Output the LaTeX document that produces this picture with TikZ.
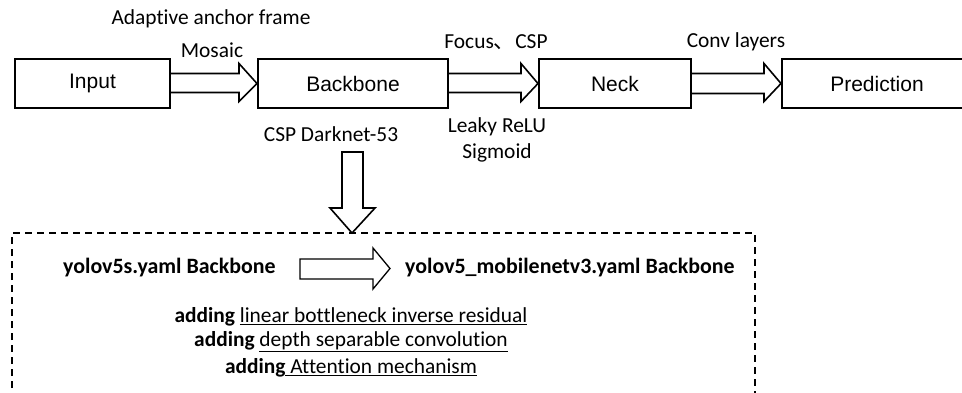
\documentclass[tikz,border=0pt]{standalone}
\usepackage{fontspec}
\setmainfont[Ligatures=NoCommon]{Carlito}
\newfontfamily\arialf{Liberation Sans}
\newfontfamily\cjk{Noto Sans CJK SC}
\usetikzlibrary{calc}
\begin{document}
\begin{tikzpicture}[x=1pt,y=-1pt,
  blk/.style={draw,line width=2pt,minimum height=49pt,inner sep=0pt,font=\arialf\fontsize{21}{25}\selectfont},
  lbl/.style={inner sep=0pt,font=\fontsize{21.4}{25}\selectfont},
  bl/.style={inner sep=0pt,font=\bfseries\fontsize{21.9}{25}\selectfont},
  hollow/.style={draw,line width=1.6pt,fill=white,line join=miter}]
\clip (0,0) rectangle (962,392);
\fill[white] (0,0) rectangle (962,392);
% boxes
\node[blk,minimum width=155pt] (in) at (92.5,83.5) {Input};
\node[blk,minimum width=190pt] (bb) at (353,83.5) {Backbone};
\node[blk,minimum width=152pt] (nk) at (615,83.5) {Neck};
\node[blk,minimum width=190pt] (pr) at (877,83.5) {Prediction};
% horizontal hollow arrows
\draw[hollow] ($(in.east)+(0,-10)$) -- ($(in.east)+(68,-10)$) -- ($(in.east)+(68,-20)$)
  -- (bb.west) -- ($(in.east)+(68,18)$) -- ($(in.east)+(68,9)$) -- ($(in.east)+(0,9)$);
\draw[hollow] ($(bb.east)+(0,-10)$) -- ($(bb.east)+(72,-10)$) -- ($(bb.east)+(72,-20)$)
  -- (nk.west) -- ($(bb.east)+(72,18)$) -- ($(bb.east)+(72,9)$) -- ($(bb.east)+(0,9)$);
\draw[hollow] ($(nk.east)+(0,-10)$) -- ($(nk.east)+(72,-10)$) -- ($(nk.east)+(72,-20)$)
  -- (pr.west) -- ($(nk.east)+(72,18)$) -- ($(nk.east)+(72,10)$) -- ($(nk.east)+(0,10)$);
% labels
\node[lbl] (l1) at (211,19) {Adaptive anchor frame};
\node[lbl] (l2) at (212,50) {Mosaic};
\node[lbl] (l3) at (496,42) {Focus{\cjk 、}CSP};
\node[lbl] (l4) at (736,42) {Conv layers};
\node[lbl] (l5) at (331,134) {CSP Darknet-53};
\node[lbl] (l6) at (497,127) {Leaky ReLU};
\node[lbl] (l7) at (497,153) {Sigmoid};
% dashed box
\coordinate (dt) at (352,233);
\draw[dashed,line width=1.6pt,dash pattern=on 7pt off 5pt] (12,400) -- (12,233) -- (755,233) -- (755,400);
% down arrow
\draw[hollow] (342,152) -- (363,152) -- (363,208) -- (375,208) -- (dt) -- (330,208) -- (342,208) -- cycle;
% inner contents
\node[bl,anchor=west] (y1) at (63,268) {yolov5s.yaml Backbone};
\node[bl,anchor=west] (y2) at (405,268) {yolov5\_mobilenetv3.yaml Backbone};
\draw[hollow,line width=1.3pt] (300,259) -- (373,259) -- (373,248) -- (390,268.5) -- (373,289) -- (373,279) -- (300,279) -- cycle;
\node[lbl] (a1) at (351,317) {\textbf{adding} \underline{linear bottleneck inverse residual}};
\node[lbl] (a2) at (351,342) {\textbf{adding} \underline{depth separable convolution}};
\node[lbl] (a3) at (351,368) {\textbf{adding}\underline{ Attention mechanism}};
\end{tikzpicture}
\end{document}
